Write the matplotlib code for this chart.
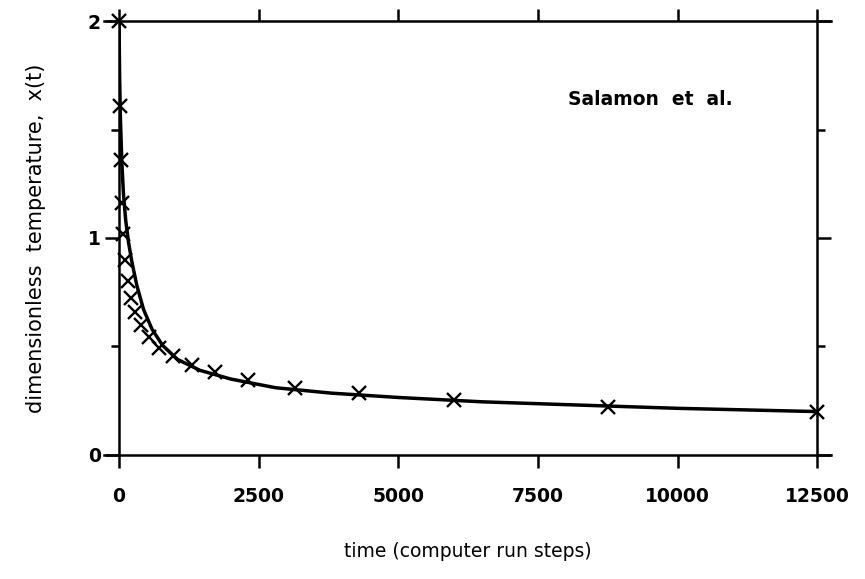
import matplotlib
matplotlib.use("Agg")
import matplotlib.pyplot as plt

# data
t_pts = [0, 15, 30, 50, 75, 110, 160, 215, 290, 390, 530, 710, 960, 1300,
         1720, 2300, 3150, 4300, 6000, 8750, 12500]
x_pts = [2.0, 1.61, 1.36, 1.16, 1.02, 0.90, 0.80, 0.725, 0.66, 0.60, 0.545,
         0.495, 0.455, 0.415, 0.383, 0.345, 0.308, 0.285, 0.254, 0.222, 0.197]

t_fit = [0, 10, 25, 50, 80, 120, 170, 230, 320, 440, 590, 780, 1050, 1450,
         2000, 2800, 3800, 5000, 6500, 8000, 10000, 12500]
x_fit = [2.0, 1.75, 1.55, 1.35, 1.2, 1.08, 0.98, 0.89, 0.78, 0.67, 0.58,
         0.505, 0.44, 0.39, 0.35, 0.31, 0.285, 0.265, 0.245, 0.232, 0.215, 0.2]

xticks = [0, 2500, 5000, 7500, 10000, 12500]
yticks = [0, 1, 2]
yminor = [0.5, 1.5]

plt.rcParams['font.family'] = ['DejaVu Sans']

fig = plt.figure(figsize=(8.65, 5.79), dpi=100)
ax = fig.add_axes([0.1376, 0.2142, 0.945 - 0.1376, 0.9637 - 0.2142])

ax.plot(t_fit, x_fit, color='black', lw=2.5, solid_capstyle='round')
ax.plot(t_pts, x_pts, ls='none', marker='x', ms=9.5, mew=1.7, color='black',
        clip_on=False)

ax.set_xlim(0, 12500)
ax.set_ylim(0, 2)
ax.set_xticks(xticks)
ax.set_yticks(yticks)
ax.set_yticks(yminor, minor=True)

for s in ax.spines.values():
    s.set_linewidth(1.8)
ax.spines['bottom'].set_bounds(-270, 12750)
ax.spines['top'].set_bounds(-270, 12750)

ax.tick_params(axis='x', which='major', direction='out', length=9, width=1.8,
               top=True, bottom=True, pad=14, labelsize=13.5)
ax.tick_params(axis='y', which='major', direction='out', length=10, width=1.8,
               left=True, right=True, pad=3, labelsize=13.5)
ax.tick_params(axis='y', which='minor', direction='out', length=6, width=1.8,
               left=True, right=True)
for lab in ax.get_xticklabels() + ax.get_yticklabels():
    lab.set_fontweight('bold')

ax.set_xlabel('time (computer run steps)', fontsize=13.5, labelpad=26)
ax.set_ylabel('dimensionless  temperature,  x(t)', fontsize=15, labelpad=30)

ax.text(0.643, 0.818, 'Salamon  et  al.', transform=ax.transAxes,
        fontsize=13.5, fontweight='bold', ha='left', va='center')

fig.savefig('out.png', dpi=100)
